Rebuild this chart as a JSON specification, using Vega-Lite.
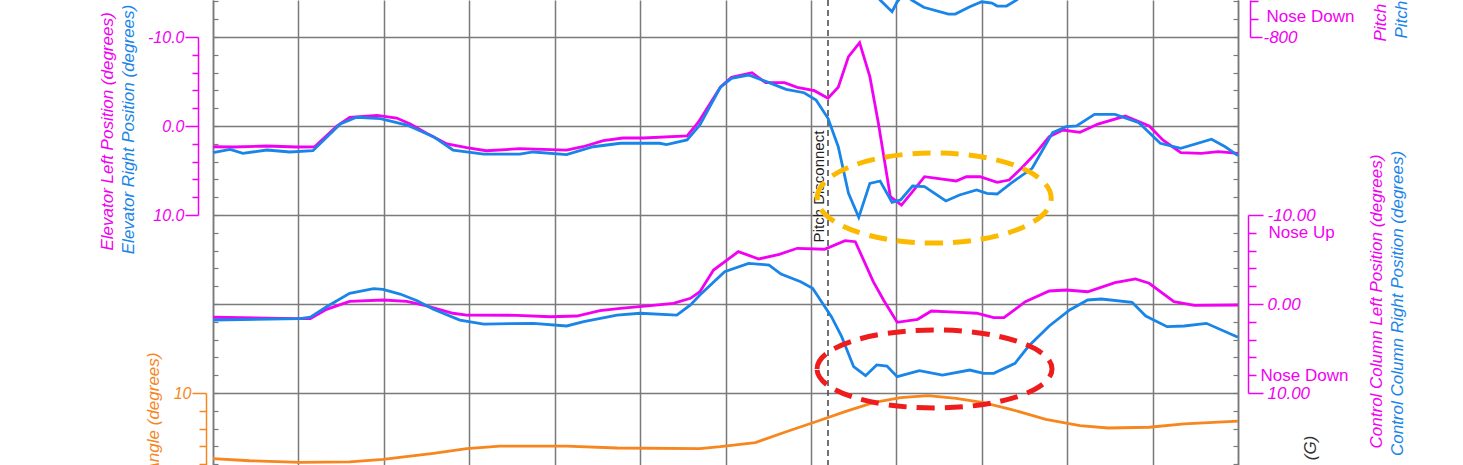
{
  "$schema": "https://vega.github.io/schema/vega-lite/v6.json",
  "width": 1025,
  "height": 465,
  "autosize": {"type": "none"},
  "padding": {"left": 213, "top": 0, "right": 225, "bottom": 0},
  "background": "white",
  "config": {"view": {"stroke": null}, "font": "Liberation Sans"},
  "datasets": {
    "elevL": [{"t":0,"v":2.33},{"t":0.24,"v":2.36},{"t":0.63,"v":2.25},{"t":0.98,"v":2.36},{"t":1.19,"v":2.33},{"t":1.45,"v":0.0},{"t":1.6,"v":-0.98},{"t":1.92,"v":-1.2},{"t":2.15,"v":-0.9},{"t":2.31,"v":-0.22},{"t":2.5,"v":0.82},{"t":2.74,"v":2.02},{"t":2.97,"v":2.44},{"t":3.2,"v":2.78},{"t":3.59,"v":2.55},{"t":4.14,"v":2.7},{"t":4.33,"v":2.33},{"t":4.57,"v":1.65},{"t":4.8,"v":1.35},{"t":5.04,"v":1.35},{"t":5.55,"v":1.12},{"t":5.68,"v":-0.4},{"t":5.94,"v":-4.35},{"t":6.07,"v":-5.47},{"t":6.31,"v":-5.99},{"t":6.47,"v":-4.87},{"t":6.69,"v":-4.87},{"t":6.84,"v":-4.35},{"t":7.04,"v":-3.97},{"t":7.2,"v":-3.11},{"t":7.32,"v":-4.35},{"t":7.44,"v":-7.79},{"t":7.57,"v":-9.36},{"t":7.69,"v":-5.54},{"t":7.79,"v":-0.3},{"t":7.93,"v":7.94},{"t":8.06,"v":8.88},{"t":8.19,"v":7.38},{"t":8.33,"v":5.7},{"t":8.54,"v":5.96},{"t":8.7,"v":6.18},{"t":8.82,"v":5.7},{"t":8.98,"v":5.7},{"t":9.18,"v":6.33},{"t":9.32,"v":6.07},{"t":9.47,"v":4.69},{"t":9.63,"v":3.07},{"t":9.79,"v":1.2},{"t":9.95,"v":0.45},{"t":10.15,"v":0.71},{"t":10.36,"v":-0.22},{"t":10.68,"v":-1.12},{"t":10.96,"v":0.0},{"t":11.12,"v":1.57},{"t":11.33,"v":3.0},{"t":11.57,"v":3.07},{"t":11.77,"v":2.89},{"t":12.0,"v":3.07}],
    "elevR": [{"t":0,"v":3.0},{"t":0.2,"v":2.62},{"t":0.35,"v":3.07},{"t":0.63,"v":2.7},{"t":0.9,"v":2.92},{"t":1.17,"v":2.78},{"t":1.49,"v":-0.22},{"t":1.68,"v":-0.98},{"t":1.96,"v":-0.82},{"t":2.27,"v":-0.11},{"t":2.58,"v":1.2},{"t":2.81,"v":2.7},{"t":3.17,"v":3.15},{"t":3.59,"v":3.15},{"t":3.75,"v":2.92},{"t":4.14,"v":3.22},{"t":4.45,"v":2.33},{"t":4.77,"v":1.94},{"t":5.23,"v":1.94},{"t":5.31,"v":2.1},{"t":5.55,"v":1.57},{"t":5.7,"v":-0.11},{"t":5.94,"v":-4.35},{"t":6.07,"v":-5.36},{"t":6.27,"v":-5.73},{"t":6.51,"v":-4.87},{"t":6.71,"v":-4.12},{"t":6.92,"v":-3.74},{"t":7.06,"v":-2.92},{"t":7.2,"v":-0.87},{"t":7.32,"v":2.33},{"t":7.44,"v":7.56},{"t":7.56,"v":10.26},{"t":7.69,"v":6.44},{"t":7.81,"v":6.18},{"t":7.95,"v":8.57},{"t":8.05,"v":8.31},{"t":8.19,"v":6.74},{"t":8.33,"v":6.82},{"t":8.58,"v":8.43},{"t":8.74,"v":7.75},{"t":8.94,"v":7.19},{"t":9.06,"v":7.56},{"t":9.18,"v":7.64},{"t":9.34,"v":6.44},{"t":9.59,"v":4.75},{"t":9.83,"v":0.75},{"t":9.99,"v":0.08},{"t":10.11,"v":0.0},{"t":10.32,"v":-1.31},{"t":10.56,"v":-1.31},{"t":10.84,"v":-0.37},{"t":11.09,"v":1.94},{"t":11.33,"v":2.51},{"t":11.69,"v":1.49},{"t":11.85,"v":2.33},{"t":12.0,"v":3.34}],
    "ccL": [{"t":0,"v":1.49},{"t":0.98,"v":1.65},{"t":1.14,"v":1.65},{"t":1.33,"v":0.6},{"t":1.6,"v":-0.3},{"t":1.99,"v":-0.45},{"t":2.27,"v":-0.3},{"t":2.5,"v":0.22},{"t":2.81,"v":1.04},{"t":2.97,"v":1.24},{"t":3.56,"v":1.27},{"t":3.95,"v":1.43},{"t":4.26,"v":1.35},{"t":4.53,"v":0.75},{"t":4.77,"v":0.48},{"t":5.12,"v":0.19},{"t":5.39,"v":-0.08},{"t":5.59,"v":-0.64},{"t":5.7,"v":-1.38},{"t":5.86,"v":-3.82},{"t":6.15,"v":-5.88},{"t":6.39,"v":-5.06},{"t":6.63,"v":-5.58},{"t":6.84,"v":-6.26},{"t":7.16,"v":-6.15},{"t":7.4,"v":-7.11},{"t":7.52,"v":-7.0},{"t":7.73,"v":-2.51},{"t":7.85,"v":-0.45},{"t":8.01,"v":2.06},{"t":8.25,"v":1.72},{"t":8.41,"v":0.79},{"t":8.74,"v":0.93},{"t":8.94,"v":1.04},{"t":9.14,"v":1.54},{"t":9.26,"v":1.54},{"t":9.51,"v":-0.26},{"t":9.79,"v":-1.46},{"t":9.99,"v":-1.57},{"t":10.24,"v":-1.38},{"t":10.56,"v":-2.39},{"t":10.8,"v":-2.81},{"t":10.96,"v":-2.33},{"t":11.25,"v":-0.26},{"t":11.49,"v":0.15},{"t":12.0,"v":0.11}],
    "ccR": [{"t":0,"v":1.8},{"t":1.02,"v":1.65},{"t":1.14,"v":1.49},{"t":1.33,"v":0.3},{"t":1.6,"v":-1.2},{"t":1.88,"v":-1.72},{"t":1.99,"v":-1.65},{"t":2.19,"v":-1.12},{"t":2.39,"v":-0.37},{"t":2.58,"v":0.6},{"t":2.89,"v":1.8},{"t":3.17,"v":2.25},{"t":3.75,"v":2.17},{"t":4.14,"v":2.47},{"t":4.34,"v":1.99},{"t":4.73,"v":1.24},{"t":5.0,"v":1.04},{"t":5.43,"v":1.24},{"t":5.59,"v":0.11},{"t":5.7,"v":-1.01},{"t":5.99,"v":-3.63},{"t":6.27,"v":-4.57},{"t":6.51,"v":-4.38},{"t":6.65,"v":-3.37},{"t":6.88,"v":-2.51},{"t":7.02,"v":-1.76},{"t":7.24,"v":1.43},{"t":7.36,"v":3.67},{"t":7.5,"v":7.04},{"t":7.64,"v":8.06},{"t":7.77,"v":6.85},{"t":7.89,"v":6.97},{"t":8.01,"v":8.17},{"t":8.27,"v":7.49},{"t":8.54,"v":7.98},{"t":8.86,"v":7.42},{"t":9.02,"v":7.79},{"t":9.14,"v":7.79},{"t":9.39,"v":6.66},{"t":9.55,"v":4.72},{"t":9.79,"v":2.47},{"t":10.03,"v":0.67},{"t":10.24,"v":-0.45},{"t":10.4,"v":-0.56},{"t":10.76,"v":-0.19},{"t":10.92,"v":1.35},{"t":11.17,"v":2.55},{"t":11.37,"v":2.47},{"t":11.63,"v":2.17},{"t":12.0,"v":3.74}],
    "pitchAtt": [{"t":0,"v":2.62},{"t":0.43,"v":2.39},{"t":1.02,"v":2.21},{"t":1.6,"v":2.25},{"t":1.99,"v":2.55},{"t":2.58,"v":3.22},{"t":2.97,"v":3.74},{"t":3.36,"v":4.04},{"t":4.14,"v":4.04},{"t":4.73,"v":3.82},{"t":5.7,"v":3.76},{"t":5.94,"v":3.97},{"t":6.35,"v":4.42},{"t":6.71,"v":5.65},{"t":7.04,"v":6.71},{"t":7.4,"v":7.9},{"t":7.73,"v":8.91},{"t":8.05,"v":9.47},{"t":8.37,"v":9.7},{"t":8.7,"v":9.4},{"t":9.02,"v":8.91},{"t":9.34,"v":8.17},{"t":9.75,"v":7.04},{"t":10.15,"v":6.33},{"t":10.48,"v":6.07},{"t":10.96,"v":6.15},{"t":11.37,"v":6.52},{"t":12.0,"v":6.85}],
    "pitchTop": [{"t":7.67,"v":-508},{"t":7.81,"v":-592},{"t":7.95,"v":-658},{"t":8.01,"v":-602},{"t":8.09,"v":-558},{"t":8.18,"v":-592},{"t":8.32,"v":-633},{"t":8.61,"v":-671},{"t":8.69,"v":-671},{"t":8.86,"v":-630},{"t":9.0,"v":-602},{"t":9.12,"v":-609},{"t":9.18,"v":-626},{"t":9.29,"v":-626},{"t":9.41,"v":-592},{"t":9.51,"v":-547}],
    "events": [{"t":7.2,"label":"Pitch Disconnect"}]
  },
  "resolve": {"scale": {"y": "independent"}},
  "layer": [
    {
      "data": {"name": "elevL"},
      "mark": {"type": "point", "opacity": 0},
      "encoding": {
        "x": {"field": "t", "type": "quantitative",
          "scale": {"domain": [0, 12], "nice": false, "zero": false},
          "axis": {"values": [0,1,2,3,4,5,6,7,8,9,10,11,12], "grid": true, "gridColor": "#7a7a7a", "gridWidth": 1.5, "labels": false, "ticks": false, "domain": false, "title": null}},
        "y": {"field": "v", "type": "quantitative",
          "scale": {"domain": [-14.157, 38.09], "range": [0, 465], "nice": false, "zero": false},
          "axis": {"orient": "left", "offset": 0, "values": [-14,-12,-10,-8,-6,-4,-2,0,2,4,6,8,10,12,14,16,18,20,22,24,26,28,30,32,34,36,38],
            "labels": false, "title": null, "domain": true, "domainColor": "#7a7a7a", "domainWidth": 1.5,
            "ticks": true, "tickSize": -5, "tickColor": "#7a7a7a", "tickWidth": 1.2,
            "grid": true, "gridColor": "#7a7a7a", "gridWidth": 1.5,
            "gridOpacity": {"condition": {"test": "datum.value % 10 === 0", "value": 1}, "value": 0}}}
      }
    },
    {
      "data": {"name": "elevL"},
      "mark": {"type": "point", "opacity": 0},
      "encoding": {
        "x": {"field": "t", "type": "quantitative"},
        "y": {"field": "v", "type": "quantitative",
          "scale": {"domain": [-14.157, 38.09], "range": [0, 465], "nice": false, "zero": false},
          "axis": {"orient": "right", "offset": 0, "values": [-14,-12,-10,-8,-6,-4,-2,0,2,4,6,8,10,12,14,16,18,20,22,24,26,28,30,32,34,36,38],
            "labels": false, "title": null, "domain": true, "domainColor": "#7a7a7a", "domainWidth": 1.5,
            "ticks": true, "tickSize": -5, "tickColor": "#7a7a7a", "tickWidth": 1.2, "grid": false}}
      }
    },
    {
      "data": {"name": "events"},
      "mark": {"type": "rule", "color": "#444444", "strokeWidth": 1.5, "strokeDash": [6, 4]},
      "encoding": {"x": {"field": "t", "type": "quantitative"}}
    },
    {
      "data": {"name": "events"},
      "mark": {"type": "text", "angle": 270, "align": "center", "baseline": "bottom", "dy": -1, "fontSize": 15, "color": "#222222", "font": "Liberation Sans"},
      "encoding": {
        "x": {"field": "t", "type": "quantitative"},
        "y": {"datum": 6.8, "type": "quantitative", "scale": {"domain": [-10, 10], "range": [37, 215], "nice": false, "zero": false}, "axis": null},
        "text": {"field": "label"}
      }
    },
    {
      "data": {"name": "elevL"},
      "mark": {"type": "line", "color": "#F200F2", "strokeWidth": 2.8},
      "encoding": {
        "x": {"field": "t", "type": "quantitative"},
        "y": {"field": "v", "type": "quantitative",
          "scale": {"domain": [-10, 10], "range": [37, 215], "nice": false, "zero": false},
          "axis": {"orient": "left", "offset": 15, "values": [-10,-8,-6,-4,-2,0,2,4,6,8,10],
            "domainColor": "#F200F2", "domainWidth": 1.5, "tickColor": "#F200F2", "tickWidth": 1.5,
            "tickSize": {"condition": {"test": "datum.value % 10 === 0", "value": 13}, "value": 6},
            "labelExpr": "datum.value === -10 ? '-10.0' : datum.value === 0 ? '0.0' : datum.value === 10 ? '10.0' : ''",
            "labelColor": "#F200F2", "labelFontStyle": "italic", "labelFontSize": 16, "labelFont": "Liberation Sans", "labelPadding": 1,
            "labelOverlap": false, "labelFlush": false, "labelBound": false, "labelBaseline": "middle", "grid": false,
            "title": "Elevator Left Position (degrees)", "titleColor": "#F200F2", "titleFontStyle": "italic", "titleFontWeight": "normal",
            "titleFontSize": 17, "titleFont": "Liberation Sans", "titleAngle": 270, "titleX": -91, "titleY": 131, "titleAlign": "center", "titleBaseline": "middle"}}
      }
    },
    {
      "data": {"name": "elevR"},
      "mark": {"type": "line", "color": "#1A85E8", "strokeWidth": 2.8},
      "encoding": {
        "x": {"field": "t", "type": "quantitative"},
        "y": {"field": "v", "type": "quantitative",
          "scale": {"domain": [-10, 10], "range": [37, 215], "nice": false, "zero": false},
          "axis": {"orient": "left", "offset": 15, "domain": false, "ticks": false, "labels": false, "grid": false,
            "title": "Elevator Right Position (degrees)", "titleColor": "#1A85E8", "titleFontStyle": "italic", "titleFontWeight": "normal",
            "titleFontSize": 17, "titleFont": "Liberation Sans", "titleAngle": 270, "titleX": -69.5, "titleY": 129, "titleAlign": "center", "titleBaseline": "middle"}}
      }
    },
    {
      "data": {"name": "ccL"},
      "mark": {"type": "line", "color": "#F200F2", "strokeWidth": 2.8},
      "encoding": {
        "x": {"field": "t", "type": "quantitative"},
        "y": {"field": "v", "type": "quantitative",
          "scale": {"domain": [-10, 10], "range": [215, 393], "nice": false, "zero": false},
          "axis": {"orient": "right", "offset": 10, "values": [-10,-8,-6,-4,-2,0,2,4,6,8,10],
            "domainColor": "#F200F2", "domainWidth": 1.5, "tickColor": "#F200F2", "tickWidth": 1.5,
            "tickSize": {"condition": {"test": "datum.value % 10 === 0", "value": 15}, "value": 8},
            "labelExpr": "datum.value === -10 ? '-10.00' : datum.value === -8 ? 'Nose Up' : datum.value === 0 ? '0.00' : datum.value === 8 ? 'Nose Down' : datum.value === 10 ? '10.00' : ''",
            "labelColor": "#F200F2", "labelFontSize": 17, "labelFont": "Liberation Sans",
            "labelFontStyle": {"condition": {"test": "datum.value % 10 === 0", "value": "italic"}, "value": "normal"},
            "labelPadding": {"condition": {"test": "datum.value === -8", "value": 12}, "value": 4},
            "labelOverlap": false, "labelFlush": false, "labelBound": false, "labelBaseline": "middle", "grid": false,
            "title": "Control Column Left Position (degrees)", "titleColor": "#F200F2", "titleFontStyle": "italic", "titleFontWeight": "normal",
            "titleFontSize": 17, "titleFont": "Liberation Sans", "titleAngle": 270, "titleX": 128, "titleY": 301, "titleAlign": "center", "titleBaseline": "middle"}}
      }
    },
    {
      "data": {"name": "ccR"},
      "mark": {"type": "line", "color": "#1A85E8", "strokeWidth": 2.8},
      "encoding": {
        "x": {"field": "t", "type": "quantitative"},
        "y": {"field": "v", "type": "quantitative",
          "scale": {"domain": [-10, 10], "range": [215, 393], "nice": false, "zero": false},
          "axis": {"orient": "right", "offset": 10, "domain": false, "ticks": false, "labels": false, "grid": false,
            "title": "Control Column Right Position (degrees)", "titleColor": "#1A85E8", "titleFontStyle": "italic", "titleFontWeight": "normal",
            "titleFontSize": 17, "titleFont": "Liberation Sans", "titleAngle": 270, "titleX": 149.5, "titleY": 303, "titleAlign": "center", "titleBaseline": "middle"}}
      }
    },
    {
      "data": {"name": "pitchAtt"},
      "mark": {"type": "line", "color": "#F7861E", "strokeWidth": 2.8},
      "encoding": {
        "x": {"field": "t", "type": "quantitative"},
        "y": {"field": "v", "type": "quantitative",
          "scale": {"domain": [10, 0], "range": [393, 482], "nice": false, "zero": false},
          "axis": {"orient": "left", "offset": 7, "values": [10, 8, 6, 4, 2, 0],
            "domainColor": "#F7861E", "domainWidth": 1.5, "tickColor": "#F7861E", "tickWidth": 1.5,
            "tickSize": {"condition": {"test": "datum.value === 10", "value": 14}, "value": 7},
            "labelExpr": "datum.value === 10 ? '10' : ''",
            "labelColor": "#F7861E", "labelFontStyle": "italic", "labelFontSize": 16, "labelFont": "Liberation Sans", "labelPadding": 1,
            "labelOverlap": false, "labelFlush": false, "labelBound": false, "labelBaseline": "middle", "grid": false,
            "title": "Pitch Angle (degrees)", "titleColor": "#F7861E", "titleFontStyle": "italic", "titleFontWeight": "normal",
            "titleFontSize": 17, "titleFont": "Liberation Sans", "titleAngle": 270, "titleX": -53, "titleY": 352, "titleAlign": "right", "titleBaseline": "middle"}}
      }
    },
    {
      "data": {"name": "pitchTop"},
      "mark": {"type": "line", "color": "#1A85E8", "strokeWidth": 2.8},
      "encoding": {
        "x": {"field": "t", "type": "quantitative"},
        "y": {"field": "v", "type": "quantitative",
          "scale": {"domain": [-800, -592.13], "range": [37, 0], "nice": false, "zero": false},
          "axis": {"orient": "right", "offset": 12, "values": [-800, -700, -600],
            "domainColor": "#F200F2", "domainWidth": 1.5, "tickColor": "#F200F2", "tickWidth": 1.5,
            "tickSize": {"condition": {"test": "datum.value === -800", "value": 12}, "value": 8},
            "labelExpr": "datum.value === -800 ? '-800' : datum.value === -700 ? 'Nose Down' : ''",
            "labelColor": "#F200F2", "labelFontSize": 17, "labelFont": "Liberation Sans",
            "labelFontStyle": {"condition": {"test": "datum.value === -800", "value": "italic"}, "value": "normal"},
            "labelPadding": {"condition": {"test": "datum.value === -800", "value": 1}, "value": 8},
            "labelOverlap": false, "labelFlush": false, "labelBound": false, "labelBaseline": "middle", "labelOffset": {"condition": {"test": "datum.value === -700", "value": -3}, "value": 0}, "grid": false,
            "title": "Pitch Force Left (lbs)", "titleColor": "#F200F2", "titleFontStyle": "italic", "titleFontWeight": "normal",
            "titleFontSize": 17, "titleFont": "Liberation Sans", "titleAngle": 270, "titleX": 130, "titleY": 41, "titleAlign": "left", "titleBaseline": "middle"}}
      }
    },
    {
      "data": {"name": "pitchTop"},
      "mark": {"type": "point", "opacity": 0},
      "encoding": {
        "x": {"field": "t", "type": "quantitative"},
        "y": {"field": "v", "type": "quantitative",
          "scale": {"domain": [-800, -592.13], "range": [37, 0], "nice": false, "zero": false},
          "axis": {"orient": "right", "offset": 12, "domain": false, "ticks": false, "labels": false, "grid": false,
            "title": "Pitch Force Right (lbs)", "titleColor": "#1A85E8", "titleFontStyle": "italic", "titleFontWeight": "normal",
            "titleFontSize": 17, "titleFont": "Liberation Sans", "titleAngle": 270, "titleX": 151, "titleY": 38, "titleAlign": "left", "titleBaseline": "middle"}}
      }
    },
    {
      "data": {"values": [{"t": 8.443, "v": 8.09}]},
      "mark": {"type": "point", "filled": false, "shape": "M -1 0 A 1 0.385 0 1 1 1 0 A 1 0.385 0 1 1 -1 0 Z", "color": "#FBBA00", "strokeWidth": 5, "strokeDash": [18, 10], "opacity": 1},
      "encoding": {
        "x": {"field": "t", "type": "quantitative"},
        "y": {"field": "v", "type": "quantitative", "scale": {"domain": [-10, 10], "range": [37, 215], "nice": false, "zero": false}, "axis": null},
        "size": {"value": 54756}
      }
    },
    {
      "data": {"values": [{"t": 8.447, "v": 7.3}]},
      "mark": {"type": "point", "filled": false, "shape": "M -1 0 A 1 0.332 0 1 1 1 0 A 1 0.332 0 1 1 -1 0 Z", "color": "#EE1C1C", "strokeWidth": 5, "strokeDash": [18, 10], "opacity": 1},
      "encoding": {
        "x": {"field": "t", "type": "quantitative"},
        "y": {"field": "v", "type": "quantitative", "scale": {"domain": [-10, 10], "range": [215, 393], "nice": false, "zero": false}, "axis": null},
        "size": {"value": 55225}
      }
    },
    {
      "data": {"values": [{"t": 12.857, "v": 3.82, "label": "(G)"}]},
      "mark": {"type": "text", "angle": 270, "align": "center", "baseline": "middle", "fontSize": 17, "fontStyle": "italic", "color": "#333333", "font": "Liberation Sans"},
      "encoding": {
        "x": {"field": "t", "type": "quantitative"},
        "y": {"field": "v", "type": "quantitative", "scale": {"domain": [10, 0], "range": [393, 482], "nice": false, "zero": false}, "axis": null},
        "text": {"field": "label"}
      }
    }
  ]
}
